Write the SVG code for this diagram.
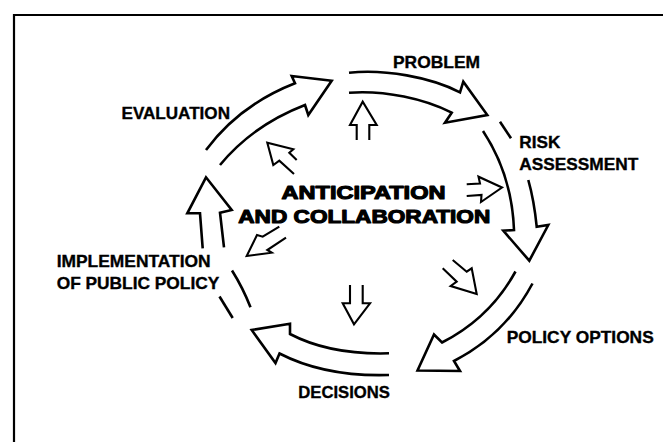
<svg xmlns="http://www.w3.org/2000/svg" width="663" height="442" viewBox="0 0 663 442">
<style>
.frame{fill:none;stroke:#000;stroke-width:2.2}
.big{fill:none;stroke:#000;stroke-width:2.6;stroke-linejoin:miter;stroke-linecap:butt}
.small{fill:none;stroke:#000;stroke-width:2.1;stroke-linejoin:miter}
.lbl{font-family:"Liberation Sans",Arial,Helvetica,sans-serif;font-weight:bold;font-size:16.5px;fill:#000;stroke:#000;stroke-width:0.35}
.ctr{font-family:"Liberation Sans",Arial,Helvetica,sans-serif;font-weight:bold;font-size:18.5px;fill:#000;stroke:#000;stroke-width:1.1;stroke-linejoin:round;paint-order:stroke}
</style>
<rect width="663" height="442" fill="#fff"/>
<path class="frame" d="M14,442 L14,15 L663,15"/>
<g id="connectors">
  <path class="big" d="M206,150 Q239.5,105 295,83.3 L291.7,76 L331.7,80.7 L308.3,115 L305,105 Q253,125 220,165"/>
  <path class="big" d="M349,72.7 C385,69 430,77 460,92.3 L463.3,81.7 L487.3,115 L445,122.7 L451.7,112.7 C425,99 385,90 349,92.7"/>
  <path class="big" d="M500,121.7 L511,138.3"/>
  <path class="big" d="M483,131 Q512,175 514,230 L503.3,230.7 L529.3,260.7 L548.3,225 L536.7,226.7 Q534,200 528.3,180"/>
  <path class="big" d="M515.5,271.5 Q490,318 442,342.5 L434,334.5 L417.5,370.5 L460,371 L454,361 Q505,335 532.5,283.5"/>
  <path class="big" d="M389,353.3 Q330,355 290,334 L290,323.7 L251.7,330 L275.5,363 L279.5,353.5 Q325,377 389,375"/>
  <path class="big" d="M232,270.5 Q243,288 250.5,307.3"/>
  <path class="big" d="M219.5,296.5 L232.7,318"/>
  <path class="big" d="M202.7,248.3 L200,213.3 L187.3,213.3 L206,177.3 L231.7,210 L220,212.7 L224,247.3"/>
  <path class="small" d="M356.7,140 L356.7,125 L350,125 L362.7,101.7 L376.7,125 L369.3,125 L369.3,140"/>
  <path class="small" d="M466.7,184.3 L480,183.5 L478.5,176.7 L502,187.5 L481,202 L481.5,195 L466.7,196"/>
  <path class="small" d="M442.7,268.3 L456.7,281.7 L450.7,286 L476.7,294 L471.7,268.3 L466.7,271.7 L452.7,260"/>
  <path class="small" d="M350,285 L350,303.3 L342.7,303.3 L354,324.3 L370,303.3 L362.7,303.3 L362.7,285"/>
  <path class="small" d="M279.3,226.7 L262.7,236.7 L257,235 L246.7,256 L271.7,252.7 L267.3,250 L286,237.7"/>
  <path class="small" d="M294,174 L279.3,160.7 L273.3,165 L267.3,142.7 L293.3,149.3 L289.3,152.7 L296.7,160"/>
</g>
<g id="center"><text class="ctr" x="281.5" y="198.5" textLength="164" lengthAdjust="spacingAndGlyphs">ANTICIPATION</text>
<text class="ctr" x="238.3" y="223.3" textLength="252" lengthAdjust="spacingAndGlyphs">AND COLLABORATION</text></g>
<g id="problem"><text class="lbl" x="393" y="68.3" textLength="87" lengthAdjust="spacingAndGlyphs">PROBLEM</text></g>
<g id="risk"><text class="lbl" x="519.3" y="148.3" textLength="41" lengthAdjust="spacingAndGlyphs">RISK</text>
<text class="lbl" x="519.3" y="170" textLength="119" lengthAdjust="spacingAndGlyphs">ASSESSMENT</text></g>
<g id="policy-options"><text class="lbl" x="506.7" y="342.7" textLength="147" lengthAdjust="spacingAndGlyphs">POLICY OPTIONS</text></g>
<g id="decisions"><text class="lbl" x="298.3" y="398.3" textLength="91.7" lengthAdjust="spacingAndGlyphs">DECISIONS</text></g>
<g id="implementation"><text class="lbl" x="56.7" y="267.3" textLength="154" lengthAdjust="spacingAndGlyphs">IMPLEMENTATION</text>
<text class="lbl" x="56.7" y="289.3" textLength="162.6" lengthAdjust="spacingAndGlyphs">OF PUBLIC POLICY</text></g>
<g id="evaluation"><text class="lbl" x="121.5" y="118.5" textLength="108.5" lengthAdjust="spacingAndGlyphs">EVALUATION</text></g>
</svg>
